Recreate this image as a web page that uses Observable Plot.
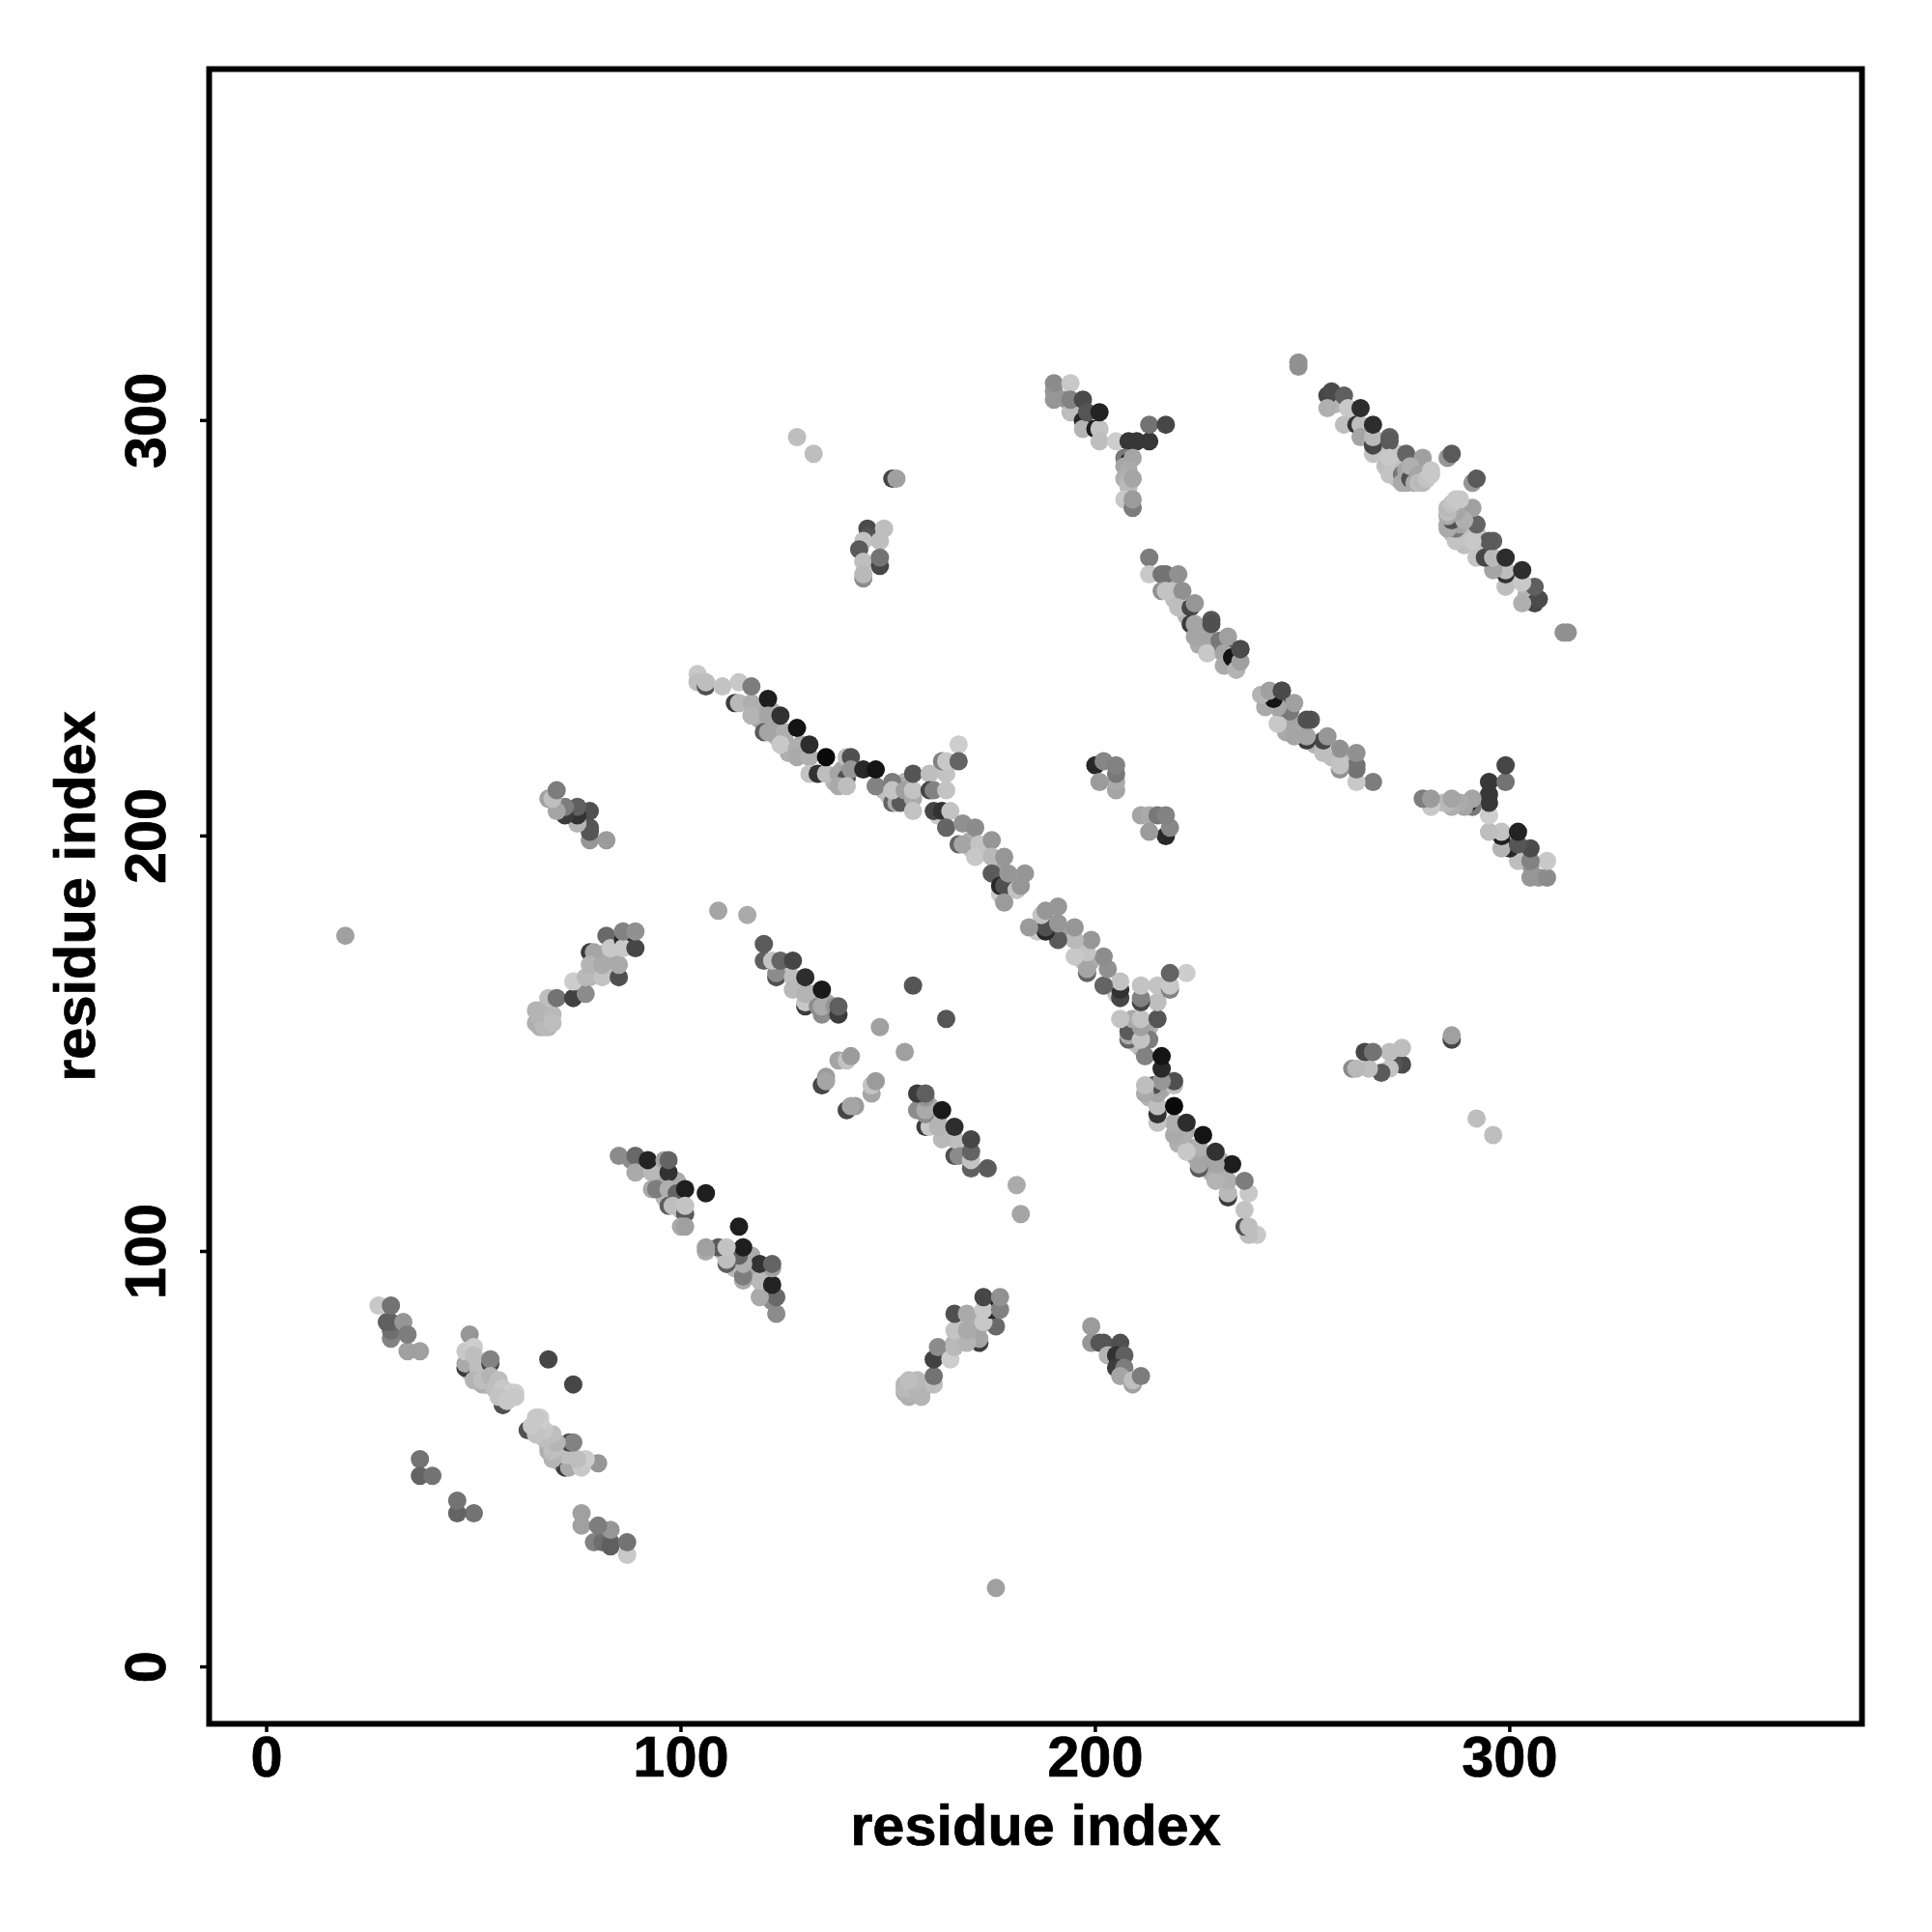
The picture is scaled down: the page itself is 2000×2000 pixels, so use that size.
<!DOCTYPE html>
<html>
<head>
<meta charset="utf-8">
<script src="https://cdn.jsdelivr.net/npm/d3@7"></script>
<script src="https://cdn.jsdelivr.net/npm/@observablehq/plot@0.6"></script>
<style>body{margin:0;background:#fff} svg text{stroke:#000;stroke-width:0.7px}</style>
</head>
<body>
<div id="chart"></div>
<script>
// Each row: residue i, residue j, contact level.
// The map is symmetric, so every contact is also drawn at (j, i).
const clusterA = [[27,87,200],[30,79,130],[30,81,110],[30,83,100],[29,83,95],[33,83,150],[30,87,115],[34,76,160],[37,76,160],[34,80,125]];
const clusterB = [[49,74,185],[49,71,190],[52,71,185],[53,71,185],[53,68,170],[55,69,175],[54,68,170],[52,68,175],[49,80,150],[48,72,60],[48,73,170],[51,71,70],[57,63,80],[48,76,200],[50,77,205],[50,75,190],[51,72,190],[54,73,70],[54,74,130],[50,69,180],[52,69,190],[54,70,180],[56,69,190],[57,65,90],[55,67,190],[57,67,200],[58,65,200],[59,66,205],[60,66,205],[56,65,195],[58,64,200],[60,65,200]];
const clusterC = [[37,50,115],[37,46,100],[40,46,115],[68,74,70],[19,176,160]];
const clusterD = [[66,158,175],[68,156,175],[67,155,175],[68,154,180],[66,154,175],[80,171,170],[82,172,175],[80,167,175],[83,170,170],[79,168,170],[84,171,175],[78,166,180],[76,165,185],[82,167,190],[65,155,175],[65,158,180],[66,156,180],[67,154,185],[67,157,180],[69,157,185],[69,155,190],[68,161,190],[70,161,115],[74,161,65],[77,162,140],[74,165,205],[77,166,185],[81,166,195],[85,166,80],[78,172,60],[79,172,165],[78,169,180],[81,169,170],[85,169,170],[82,176,105],[83,173,200],[86,175,40],[86,173,200],[89,173,70],[86,177,130],[89,177,145]];
const clusterE = [[125,168,195],[128,165,185],[132,162,175],[132,160,190],[135,160,170],[136,158,165],[109,182,165],[116,181,170],[120,174,90],[120,170,95],[123,166,80],[123,167,140],[122,170,195],[124,170,100],[127,166,190],[127,163,185],[127,170,70],[130,159,60],[130,160,200],[133,159,140],[130,162,180],[130,166,45],[134,157,140],[134,159,170],[134,163,25],[137,159,150],[138,157,60],[138,159,95]];
const clusterF = [[134,140,70],[135,142,155],[135,141,165],[138,146,165],[140,146,195],[141,147,155],[148,154,160],[156,164,85]];
const clusterG = [[91,120,180],[95,118,170],[95,116,165],[96,113,185],[100,113,180],[100,110,190],[99,117,170],[85,123,140],[88,122,140],[89,123,105],[89,119,170],[93,119,185],[92,122,35],[96,122,160],[97,119,50],[97,122,100],[93,115,170],[94,115,125],[97,115,175],[99,114,100],[101,115,30],[106,114,30],[97,111,95],[98,111,190],[101,109,90],[101,111,195],[100,106,170],[101,106,160]];
const clusterH = [[82,199,155],[78,199,150],[78,201,85],[78,202,85],[78,206,80],[75,203,180],[75,205,50],[75,207,95],[72,205,60],[72,207,125],[70,206,165],[68,209,160],[69,209,190],[70,211,125]];
const clusterI = [[118,231,170],[119,228,170],[120,230,170],[122,227,165],[123,224,170],[125,223,170],[126,220,175],[129,222,170],[130,220,175],[122,230,175],[149,211,175],[152,210,185],[154,209,175],[154,213,180],[153,212,170],[150,210,190],[137,213,180],[139,216,170],[170,197,190],[173,197,190],[170,199,175],[176,192,160],[177,186,200],[104,239,200],[104,237,190],[106,236,80],[106,237,190],[110,236,195],[114,237,200],[113,232,60],[114,232,185],[117,232,175],[117,236,125],[117,229,180],[121,233,30],[121,229,165],[120,225,90],[121,225,165],[125,225,175],[124,229,50],[124,222,200],[128,221,175],[128,226,20],[128,219,170],[131,219,175],[131,222,45],[131,215,195],[133,215,50],[135,215,190],[135,219,10],[140,219,190],[141,219,80],[138,215,165],[140,214,80],[141,216,150],[138,212,170],[140,212,190],[144,216,40],[147,212,180],[147,212,130],[147,216,20],[151,208,100],[152,208,170],[153,208,90],[151,213,125],[151,211,195],[154,211,160],[156,209,170],[156,206,195],[156,211,195],[156,215,85],[160,215,190],[164,215,195],[163,218,130],[164,218,200],[167,222,205],[167,218,100],[160,211,70],[161,211,130],[164,211,195],[162,205,200],[161,206,70],[163,206,50],[165,206,195],[164,202,190],[164,202,100],[168,203,145],[171,202,140],[167,198,100],[168,198,165],[172,198,195],[175,199,150],[171,195,200],[175,195,185],[178,195,150],[175,191,90],[177,188,40],[178,188,80],[179,191,150],[181,187,195],[182,188,150],[183,191,150],[178,184,155]];
const clusterJ = [[200,217,40],[202,218,135],[205,211,165],[205,213,170],[205,215,120],[205,217,130],[201,213,155]];
const clusterM = [[190,305,150],[190,307,150],[190,309,140],[193,305,150],[194,309,200],[194,302,190],[194,305,130],[197,305,75],[197,300,40],[197,298,180],[198,302,85],[200,298,30],[201,298,195],[201,295,190],[201,302,35],[205,295,205],[208,295,55],[210,295,55],[213,295,55],[213,299,115],[217,299,70],[207,291,120],[208,290,30],[209,291,165],[207,289,165],[208,288,170],[207,286,175],[208,284,190],[208,285,185],[209,286,165],[207,281,200],[209,279,125],[209,281,155]];
const clusterL = [[226,250,170],[225,246,170],[229,245,165],[233,241,175],[222,253,180],[219,257,190],[218,261,190],[213,267,125],[213,263,200],[216,263,115],[217,263,115],[220,263,145],[216,259,145],[217,259,195],[221,259,145],[220,255,190],[223,255,70],[224,256,150],[223,251,60],[224,251,165],[224,248,165],[227,248,165],[227,244,200],[228,252,85],[228,251,80],[231,245,80],[230,247,120],[232,248,160],[231,244,165],[231,241,170],[233,243,20],[234,240,180],[235,242,160],[235,245,95],[235,245,75]];
const clusterN = [[258,304,180],[262,301,195],[266,297,180],[269,293,195],[270,289,190],[273,292,195],[272,289,190],[273,286,190],[272,288,190],[249,313,145],[249,314,145],[256,306,70],[257,307,75],[260,306,95],[256,303,175],[260,299,190],[261,303,200],[263,299,50],[264,299,190],[264,303,45],[264,296,165],[267,292,195],[267,294,70],[267,296,185],[267,299,45],[271,296,95],[271,295,90],[271,291,200],[271,287,195],[275,292,100],[274,287,120],[275,288,165],[275,285,165],[274,285,170],[279,291,160],[278,289,160],[276,286,80],[276,289,175],[278,287,165],[277,285,170],[278,285,190],[279,285,185],[280,286,195],[281,287,200],[281,288,200],[285,291,150],[286,292,90]];
const clusterP = [[128,296,190],[132,292,190],[151,286,70],[152,286,160],[145,274,75],[145,272,85],[149,274,190],[144,271,195],[148,271,190],[143,269,90],[144,266,190],[144,262,140],[144,263,185],[148,265,70],[148,267,115]];

const tickValues = [0, 100, 200, 300];
const axisTitle = "residue index";

const clusters = [clusterA, clusterB, clusterC, clusterD, clusterE, clusterF, clusterG, clusterH, clusterI, clusterJ, clusterM, clusterL, clusterN, clusterP];
const contacts = [];
for (const cluster of clusters) {
  for (const [i, j, level] of cluster) contacts.push({x: i, y: j, level});
  for (const [i, j, level] of cluster) contacts.push({x: j, y: i, level});
}

const fontSize = 59.5;
const chart = Plot.plot({
  width: 2000,
  height: 2000,
  marginLeft: 216,
  marginRight: 73,
  marginTop: 71,
  marginBottom: 216,
  style: {fontFamily: "Liberation Sans", fontWeight: "bold", background: "#fff", color: "#000"},
  x: {domain: [-13.87, 385]},
  y: {domain: [-13.7, 384.6]},
  color: {type: "linear", domain: [0, 255], range: ["#000000", "#ffffff"], interpolate: "rgb"},
  marks: [
    Plot.dot(contacts, {x: "x", y: "y", fill: "level", r: 9.5}),
    Plot.frame({stroke: "#000", strokeWidth: 6}),
    Plot.axisX({
      ticks: tickValues, tickSize: 9, tickPadding: 3, strokeWidth: 3.5,
      fontSize, tickFormat: d => String(d),
      label: axisTitle, labelAnchor: "center", labelArrow: "none", labelOffset: 125.5
    }),
    Plot.axisY({
      ticks: tickValues, tickSize: 9, tickPadding: 37, strokeWidth: 3.5,
      fontSize, tickRotate: -90, tickFormat: d => String(d),
      label: axisTitle, labelAnchor: "center", labelArrow: "none", labelOffset: 161
    })
  ]
});
document.getElementById("chart").appendChild(chart);
</script>
</body>
</html>
